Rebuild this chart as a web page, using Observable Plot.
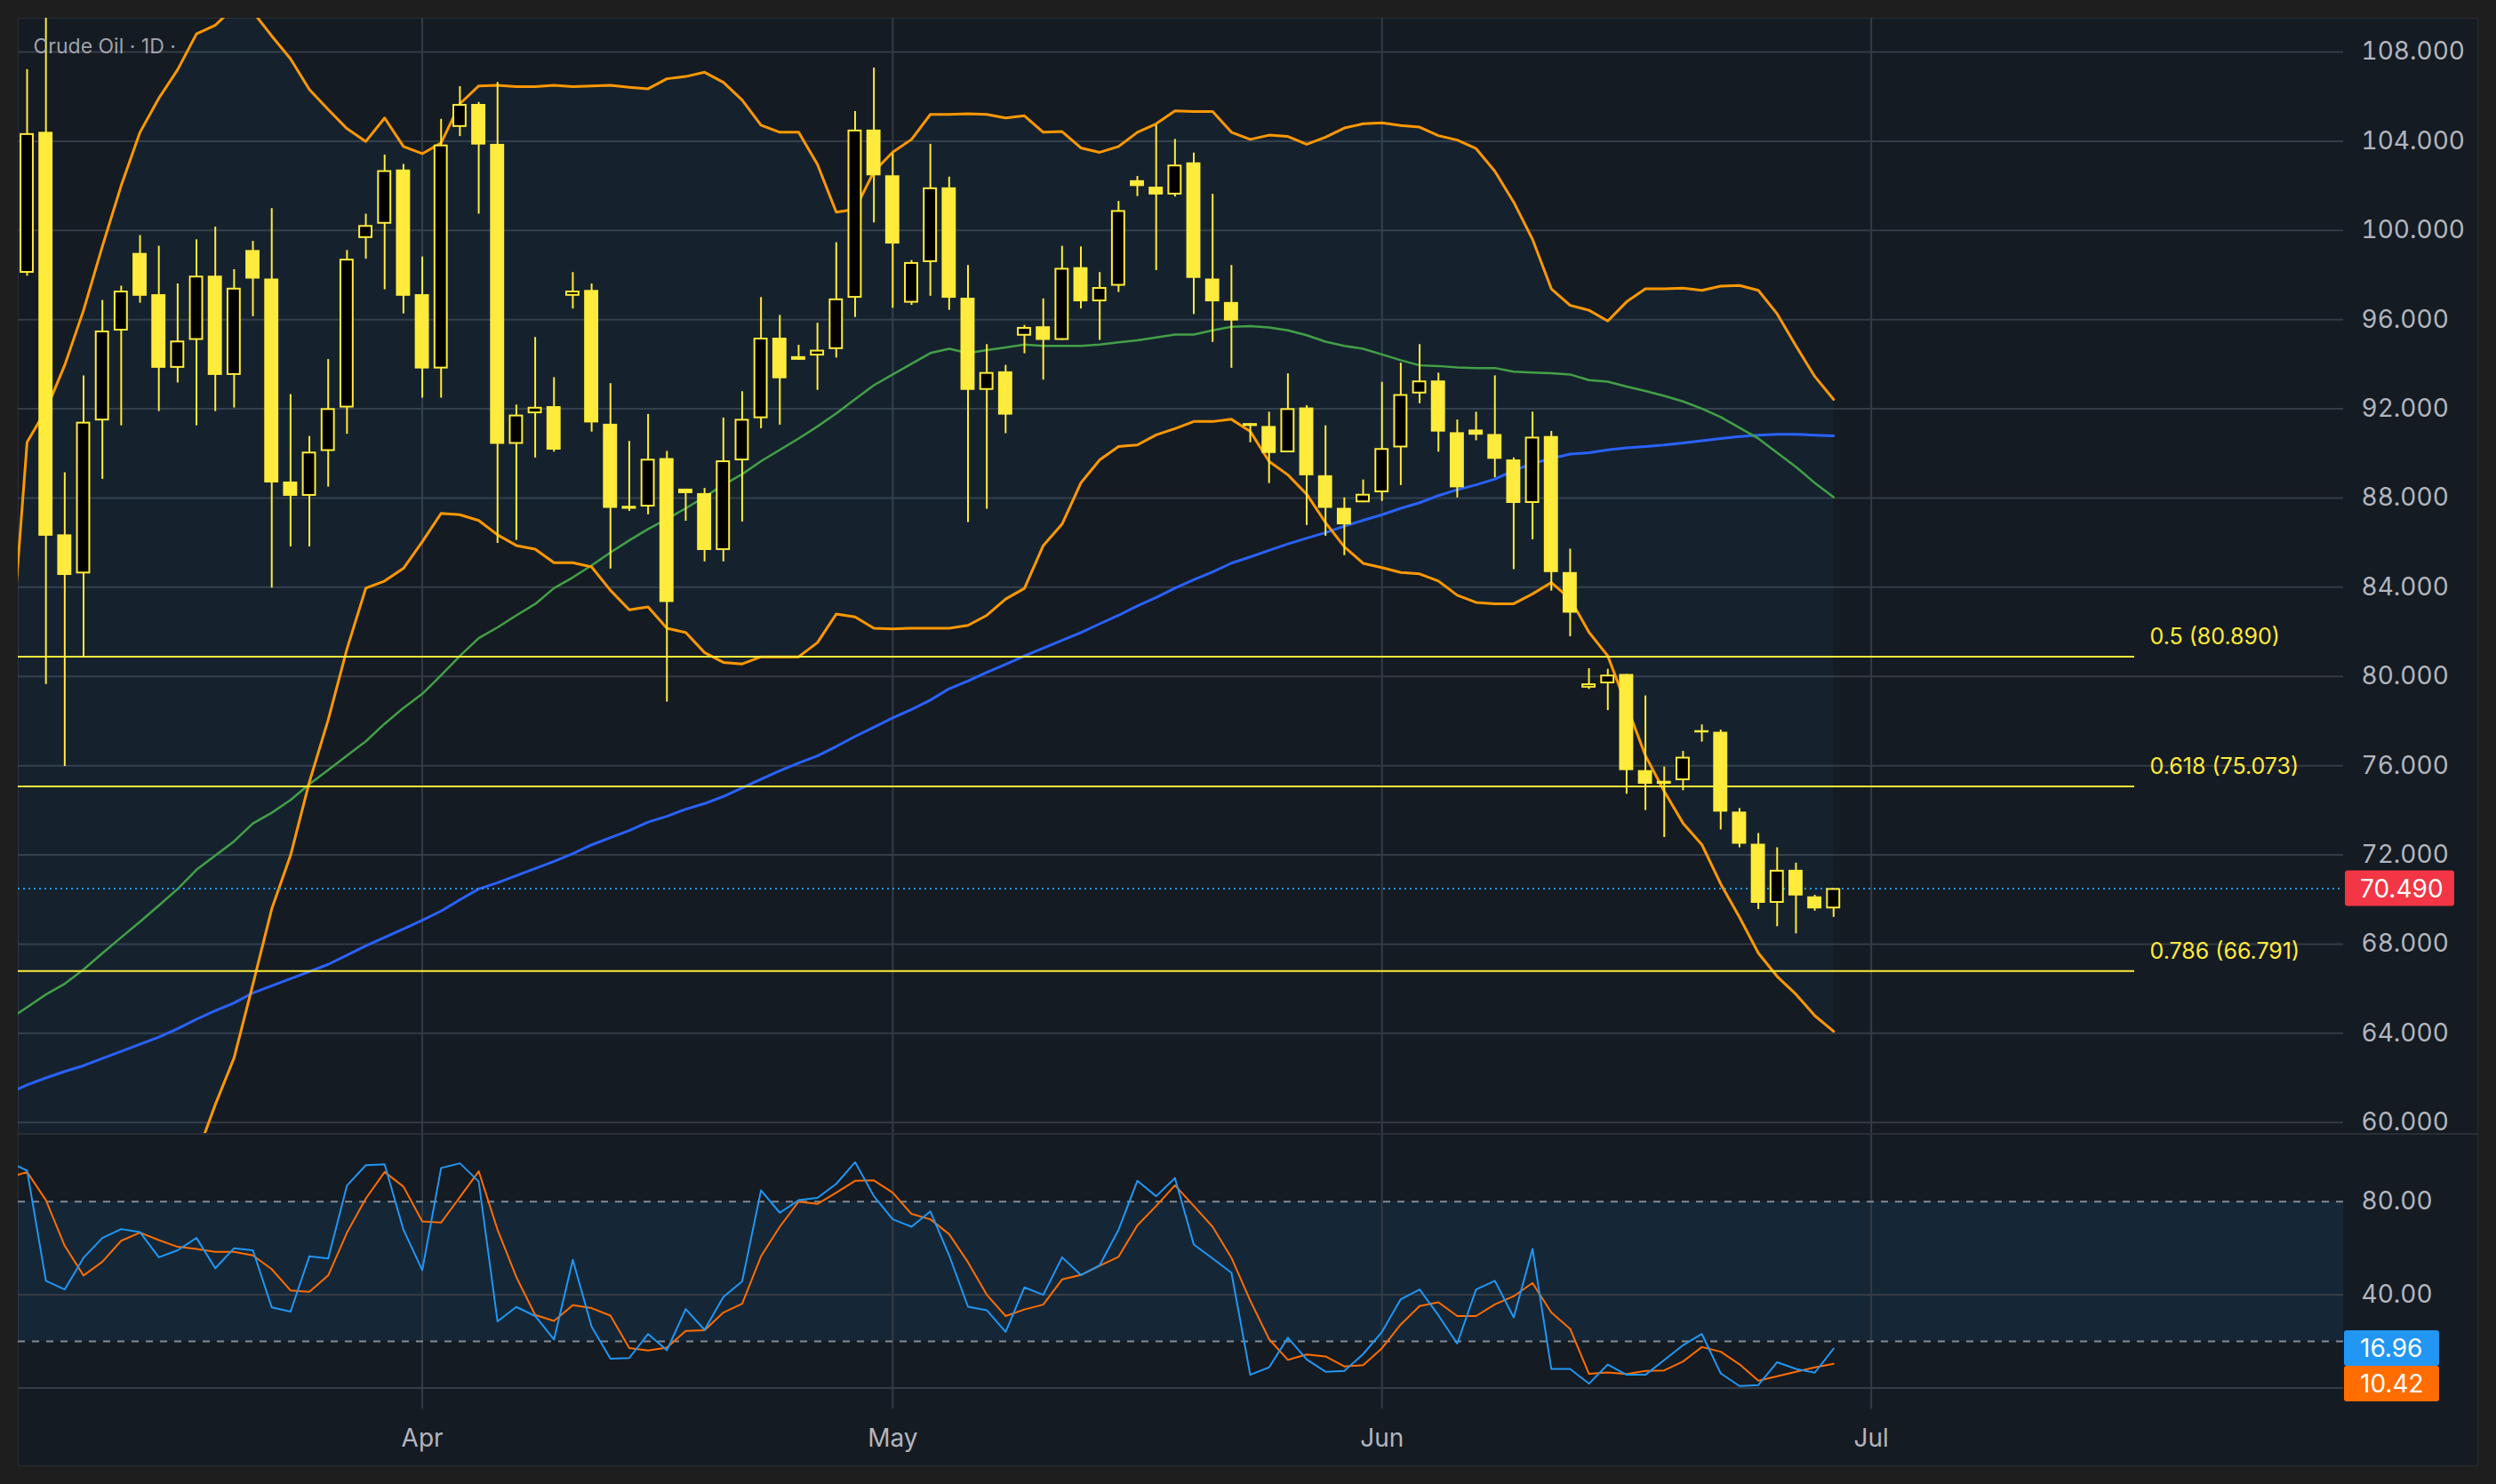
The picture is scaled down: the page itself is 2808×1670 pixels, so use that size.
<!DOCTYPE html>
<html><head><meta charset="utf-8">
<script src="https://cdn.jsdelivr.net/npm/d3@7"></script>
<script src="https://cdn.jsdelivr.net/npm/@observablehq/plot@0.6"></script>
<style>
html,body{margin:0;padding:0;background:#1e1e1e;width:2808px;height:1670px;overflow:hidden;font-family:Inter,sans-serif}
#panel{position:absolute;left:20px;top:20px;width:2768px;height:1630px;background:#151b22;box-shadow:inset 0 0 0 1px #2a2e36}
#price{position:absolute;left:0;top:0}
#sep{position:absolute;left:0;top:1255px;width:2768px;height:2px;background:#2a2e36}
#rsi{position:absolute;left:0;top:1257px}
svg{overflow:visible}
</style></head><body><div id="panel"><div id="price"></div><div id="sep"></div><div id="rsi"></div></div>
<script>
// ---------- DATA ----------
const title = "Crude Oil · 1D ·";
const open = [98.08,104.4,86.35,84.6,91.46,95.49,98.97,97.12,93.82,95.07,97.95,93.5,99.1,97.82,88.72,88.08,90.09,92.04,99.64,100.28,102.71,97.12,93.79,104.62,105.65,103.86,90.41,91.78,92.1,97.05,97.31,91.31,87.63,87.6,89.77,88.4,88.2,85.65,89.67,91.56,95.17,94.34,94.37,94.66,96.96,104.5,102.45,96.74,98.56,101.91,96.96,92.83,93.66,95.26,95.68,95.07,98.33,96.8,97.5,102.23,101.94,101.59,103.03,97.82,96.77,91.34,91.21,90.03,92.04,89.0,87.54,87.79,88.24,90.25,92.67,93.25,90.93,91.05,90.85,89.71,87.76,90.76,84.66,79.48,79.67,80.09,75.78,75.3,75.33,77.57,77.5,73.92,72.48,69.83,71.31,70.12,69.58];
const high = [107.21,110.5,89.13,93.48,96.86,97.5,99.77,99.29,97.6,99.58,100.15,98.24,99.51,100.98,92.64,90.76,94.21,99.1,100.73,103.38,102.96,98.81,104.98,106.45,105.74,106.64,92.17,95.2,93.4,98.11,97.6,93.13,90.54,91.75,90.09,88.4,88.43,91.59,92.77,96.99,96.19,94.85,95.84,99.45,105.33,107.28,103.44,98.65,103.86,102.39,98.43,94.88,93.95,95.74,96.93,99.29,99.26,98.11,101.3,102.42,104.72,104.08,103.47,101.62,98.43,91.34,91.85,93.57,92.14,91.24,88.01,88.81,93.19,94.05,94.88,93.6,91.5,91.85,93.48,89.8,91.85,90.99,85.71,80.35,80.32,80.09,79.13,75.94,76.64,77.83,77.6,74.08,72.96,72.32,71.63,70.19,70.49];
const low = [97.95,79.64,75.97,80.86,88.84,91.24,96.74,91.88,93.16,91.24,91.88,92.04,96.13,83.96,85.81,85.81,88.49,90.86,98.71,97.34,96.26,92.48,92.48,104.21,100.73,85.97,86.1,89.8,90.06,96.48,90.96,84.82,87.4,87.25,78.85,86.96,85.14,85.14,86.93,91.11,91.27,94.18,92.83,94.28,96.1,100.34,96.51,96.64,97.05,96.42,86.9,87.5,90.89,94.47,93.29,95.07,96.48,95.07,97.22,101.52,98.2,101.5,96.23,94.98,93.82,90.48,88.65,90.03,86.77,86.29,85.42,87.79,87.85,88.56,92.23,90.06,88.01,90.57,88.91,84.79,86.13,83.83,81.78,79.42,78.47,74.72,73.99,72.78,74.88,77.06,73.12,72.32,69.55,68.78,68.46,69.48,69.2];
const close = [104.34,86.29,84.53,91.4,95.49,97.28,97.05,93.82,95.04,97.95,93.5,97.41,97.82,88.68,88.08,90.06,92.01,98.71,100.22,102.68,97.05,93.79,103.83,105.65,103.83,90.41,91.72,92.07,90.15,97.28,91.37,87.54,87.5,89.74,83.32,88.2,85.65,89.67,91.53,95.17,93.35,94.18,94.63,96.93,104.5,102.45,99.39,98.56,101.91,96.96,92.83,93.63,91.72,95.65,95.07,98.3,96.8,97.44,100.89,101.97,101.59,102.93,97.85,96.8,95.94,91.21,90.0,92.01,89.0,87.54,86.8,88.17,90.22,92.64,93.25,90.96,88.46,90.82,89.74,87.76,90.73,84.66,82.84,79.67,80.06,75.78,75.17,75.17,76.38,77.47,73.92,72.48,69.83,71.31,70.16,69.58,70.49];

// indicator series start one bar before the first visible candle
const indicatorStart = -1;
const bbUpper = [79.4,90.51,91.94,93.96,96.42,99.29,102.01,104.4,105.93,107.21,108.81,109.2,110.0,109.8,108.72,107.69,106.32,105.42,104.56,103.99,105.04,103.76,103.44,103.92,105.68,106.48,106.51,106.45,106.45,106.51,106.45,106.48,106.51,106.42,106.35,106.8,106.9,107.09,106.64,105.84,104.72,104.4,104.4,102.96,100.82,100.95,102.64,103.51,104.08,105.2,105.2,105.23,105.2,105.04,105.14,104.4,104.43,103.7,103.5,103.76,104.4,104.78,105.36,105.33,105.33,104.4,104.08,104.27,104.21,103.86,104.18,104.59,104.78,104.82,104.7,104.63,104.25,104.05,103.67,102.65,101.27,99.6,97.38,96.64,96.42,95.94,96.8,97.38,97.38,97.41,97.31,97.5,97.53,97.31,96.26,94.82,93.45,92.42];
const bbLower = [45.0,47.0,48.5,50.0,51.5,53.0,54.3,55.5,56.6,57.6,58.5,60.8,62.9,66.2,69.58,71.98,75.27,78.05,81.24,83.96,84.28,84.85,86.04,87.31,87.25,86.99,86.35,85.87,85.71,85.1,85.1,84.91,83.86,82.99,83.12,82.16,81.97,81.07,80.63,80.56,80.88,80.88,80.88,81.52,82.8,82.67,82.16,82.13,82.16,82.16,82.16,82.29,82.74,83.47,83.95,85.87,86.83,88.68,89.71,90.31,90.38,90.83,91.11,91.43,91.43,91.53,90.99,89.64,89.04,88.17,86.9,85.81,85.07,84.88,84.66,84.6,84.28,83.64,83.32,83.26,83.26,83.7,84.21,83.48,81.98,80.92,78.69,76.45,74.85,73.42,72.46,70.7,69.2,67.6,66.55,65.75,64.79,64.09];
const maGreen = [64.6,65.17,65.74,66.22,66.86,67.59,68.3,69.0,69.73,70.47,71.33,71.97,72.61,73.41,73.89,74.46,75.17,75.81,76.45,77.09,77.88,78.59,79.22,80.05,80.92,81.72,82.2,82.74,83.25,83.96,84.44,84.98,85.56,86.1,86.61,87.06,87.54,88.05,88.59,89.07,89.65,90.16,90.67,91.21,91.79,92.43,93.06,93.54,94.02,94.5,94.69,94.5,94.63,94.75,94.88,94.82,94.82,94.82,94.88,94.98,95.07,95.2,95.33,95.33,95.52,95.68,95.71,95.65,95.52,95.3,95.01,94.82,94.69,94.44,94.18,93.95,93.92,93.86,93.83,93.83,93.67,93.63,93.6,93.54,93.29,93.22,93.0,92.8,92.58,92.33,92.01,91.63,91.15,90.67,90.03,89.39,88.68,88.04];
const maBlue = [61.3,61.69,62.0,62.29,62.55,62.87,63.19,63.51,63.83,64.21,64.63,65.01,65.36,65.81,66.13,66.45,66.77,67.09,67.5,67.92,68.3,68.68,69.07,69.48,69.99,70.47,70.75,71.07,71.39,71.71,72.06,72.45,72.77,73.09,73.47,73.73,74.05,74.3,74.62,75.0,75.39,75.77,76.12,76.44,76.86,77.31,77.72,78.14,78.52,78.94,79.45,79.8,80.18,80.54,80.92,81.27,81.62,81.97,82.36,82.74,83.16,83.54,83.96,84.34,84.69,85.08,85.36,85.65,85.94,86.2,86.45,86.74,87.0,87.25,87.54,87.79,88.11,88.37,88.59,88.85,89.23,89.55,89.77,89.97,90.03,90.16,90.25,90.31,90.38,90.47,90.57,90.67,90.76,90.82,90.86,90.86,90.82,90.79];
const rsi = [97,93.3,46.0,42.3,55.9,64.4,68.2,66.9,56.1,59.1,64.4,51.4,60.0,59.1,34.6,32.8,56.5,55.6,86.9,95.6,96.0,67.9,50.6,94.4,96.4,88.6,28.6,34.8,30.9,20.8,55.0,26.3,12.6,12.9,23.2,16.2,33.9,25.0,39.1,45.8,84.8,75.2,80.6,81.6,87.6,96.9,82.3,72.4,69.2,75.8,56.9,34.9,33.4,24.1,43.2,40.0,56.1,48.5,52.7,67.9,88.9,82.3,90.1,61.6,55.6,49.5,5.7,8.9,21.6,12.3,7.0,7.4,14.6,24.1,38.1,42.3,31.2,19.1,42.3,46.0,30.3,59.7,8.2,8.2,1.9,10.1,5.7,5.7,12.0,18.4,23.2,6.3,0.9,1.3,11.1,8.2,6.6,16.96];
const rsiSignal = [90.2,92.7,80.6,61.0,48.3,54.2,63.2,66.7,63.5,60.6,59.7,58.4,58.4,56.9,51.0,41.9,41.3,48.3,66.7,81.3,92.7,86.4,71.5,71.0,81.9,93.0,67.9,47.6,31.4,28.8,35.6,34.3,31.1,17.2,16.1,17.4,24.5,24.8,32.4,36.2,56.5,69.2,80.0,79.0,83.8,88.9,89.1,83.8,74.7,72.4,66.0,54.0,40.0,30.9,33.7,35.8,46.6,48.5,52.5,56.3,69.8,78.1,87.0,78.1,69.2,55.9,37.5,21.0,12.1,14.4,13.6,9.3,9.8,17.1,27.3,35.2,36.8,30.9,30.9,35.9,39.4,45.1,32.4,25.4,6.1,6.7,6.0,7.4,7.6,11.4,17.6,15.6,10.2,3.2,5.1,7.0,8.9,10.42];

const fibLevels = [0.5, 0.618, 0.786];
const fibValues = [80.890, 75.073, 66.791];
const fibEndBar = 112;           // fib lines stop at this bar index
const monthTicks = [21, 46, 72, 98];
const monthLabels = ["Apr", "May", "Jun", "Jul"];
const priceTicks = [60,64,68,72,76,80,84,88,92,96,100,104,108];
const rsiTicks = [80, 40];
const rsiBandLevels = [80, 20];

// ---------- BUILD ----------
const bars = open.map((o, k) => ({i: k, open: o, high: high[k], low: low[k], close: close[k]}));
const upBars = bars.filter(d => d.close >= d.open);
const downBars = bars.filter(d => d.close < d.open);
const ind = bbUpper.map((u, k) => ({i: k + indicatorStart, upper: u, lower: bbLower[k], green: maGreen[k], blue: maBlue[k]}));
const osc = rsi.map((v, k) => ({i: k + indicatorStart, rsi: v, signal: rsiSignal[k]}));
const fib = fibLevels.map((l, k) => ({level: l, value: fibValues[k]}));
const last = bars[bars.length - 1];

const W = 2768, MR = 152;
const xDomain = [-0.4724, 123.10];
const YEL = "#ffeb3b", GRID = "#353b44", TXT = "#b2b5be", FONT = "Inter, sans-serif";
const half = 0.375;

const price = Plot.plot({
  width: W, height: 1255,
  marginLeft: 0, marginRight: MR, marginTop: 0, marginBottom: 0,
  x: {domain: xDomain, axis: null},
  y: {domain: [59.51, 109.514], axis: null},
  style: {background: "transparent", fontFamily: FONT, color: TXT},
  marks: [
    Plot.gridY(priceTicks, {stroke: GRID, strokeOpacity: 1, strokeWidth: 2}),
    Plot.gridX(monthTicks, {stroke: GRID, strokeOpacity: 1, strokeWidth: 2}),
    Plot.areaY(ind, {x: "i", y1: "lower", y2: "upper", fill: "#2196f3", fillOpacity: 0.06, clip: true}),
    Plot.line(ind, {x: "i", y: "blue", stroke: "#2962ff", strokeWidth: 3, clip: true}),
    Plot.line(ind, {x: "i", y: "green", stroke: "#43a047", strokeWidth: 2.5, clip: true}),
    Plot.line(ind, {x: "i", y: "upper", stroke: "#ff9800", strokeWidth: 3, clip: true}),
    Plot.line(ind, {x: "i", y: "lower", stroke: "#ff9800", strokeWidth: 3, clip: true}),
    Plot.ruleY(fib, {y: "value", x1: xDomain[0], x2: fibEndBar, stroke: YEL, strokeWidth: 2}),
    Plot.ruleY([last.close], {stroke: "#2196f3", strokeWidth: 2, strokeDasharray: "2,4"}),
    Plot.ruleX(bars, {x: "i", y1: "low", y2: "high", stroke: YEL, strokeWidth: 2, clip: true}),
    Plot.rect(downBars, {x1: d => d.i - half, x2: d => d.i + half, y1: "open", y2: "close", fill: YEL, clip: true}),
    Plot.rect(upBars, {x1: d => d.i - half, x2: d => d.i + half, y1: "open", y2: "close", fill: "#000", stroke: YEL, strokeWidth: 2, inset: 1, clip: true}),
    Plot.text(fib, {x: fibEndBar, y: "value", text: d => `${d.level} (${d.value.toFixed(3)})`, textAnchor: "start", dx: 17, dy: -22, fill: YEL, fontSize: 25}),
    Plot.text([title], {frameAnchor: "top-left", dx: 17, dy: 32, lineAnchor: "middle", text: d => d, fill: TXT, fillOpacity: 0.9, fontSize: 23, textAnchor: "start"}),
    Plot.axisY(priceTicks, {anchor: "right", tickSize: 0, tickPadding: 20, tickFormat: d3.format(".3f"), fontSize: 28, fill: TXT, label: null})
  ]
});
document.getElementById("price").appendChild(price);
{
  const y = price.scale("y").apply(last.close);
  const g = d3.select(price).append("g").attr("text-anchor", "start");
  g.append("rect").attr("x", W - MR + 2).attr("y", y - 20).attr("width", 123).attr("height", 40).attr("rx", 3).attr("fill", "#f23645");
  g.append("text").attr("x", W - MR + 19).attr("y", y).attr("dy", "0.36em").attr("fill", "#fff").attr("text-anchor", "start")
    .attr("font-size", 28).attr("font-family", FONT).text(d3.format(".3f")(last.close));
}

const osch = Plot.plot({
  width: W, height: 373,
  marginLeft: 0, marginRight: MR, marginTop: 0, marginBottom: 65,
  x: {domain: xDomain, axis: null},
  y: {domain: [-8.93, 108.46], axis: null},
  style: {background: "transparent", fontFamily: FONT, color: TXT},
  marks: [
    Plot.rect([rsiBandLevels], {y1: d => d[1], y2: d => d[0], fill: "#2196f3", fillOpacity: 0.1}),
    Plot.gridY([0, 40], {stroke: GRID, strokeOpacity: 1, strokeWidth: 2}),
    Plot.gridX(monthTicks, {stroke: GRID, strokeOpacity: 1, strokeWidth: 2}),
    Plot.ruleY(rsiBandLevels, {stroke: "#858a94", strokeWidth: 2, strokeDasharray: "8,8"}),
    Plot.line(osc, {x: "i", y: "signal", stroke: "#ff6d00", strokeWidth: 2, clip: true}),
    Plot.line(osc, {x: "i", y: "rsi", stroke: "#2196f3", strokeWidth: 2, clip: true}),
    Plot.axisY(rsiTicks, {anchor: "right", tickSize: 0, tickPadding: 20, tickFormat: d3.format(".2f"), fontSize: 28, fill: TXT, label: null}),
    Plot.axisX(monthTicks, {tickSize: 0, tickPadding: 23, tickFormat: d => monthLabels[monthTicks.indexOf(d)], fontSize: 28, fill: TXT, label: null})
  ]
});
document.getElementById("rsi").appendChild(osch);
{
  const ys = osch.scale("y");
  const lastO = osc[osc.length - 1];
  const yb = ys.apply(lastO.rsi);
  const yo = Math.max(ys.apply(lastO.signal), yb + 40);
  const g = d3.select(osch).append("g").attr("text-anchor", "start");
  [[yb, "#2196f3", lastO.rsi], [yo, "#ff6d00", lastO.signal]].forEach(([y, c, v]) => {
    g.append("rect").attr("x", W - MR + 1).attr("y", y - 20).attr("width", 107).attr("height", 40).attr("rx", 3).attr("fill", c);
    g.append("text").attr("x", W - MR + 19).attr("y", y).attr("dy", "0.36em").attr("fill", "#fff").attr("text-anchor", "start")
      .attr("font-size", 28).attr("font-family", FONT).text(d3.format(".2f")(v));
  });
}
</script></body></html>
